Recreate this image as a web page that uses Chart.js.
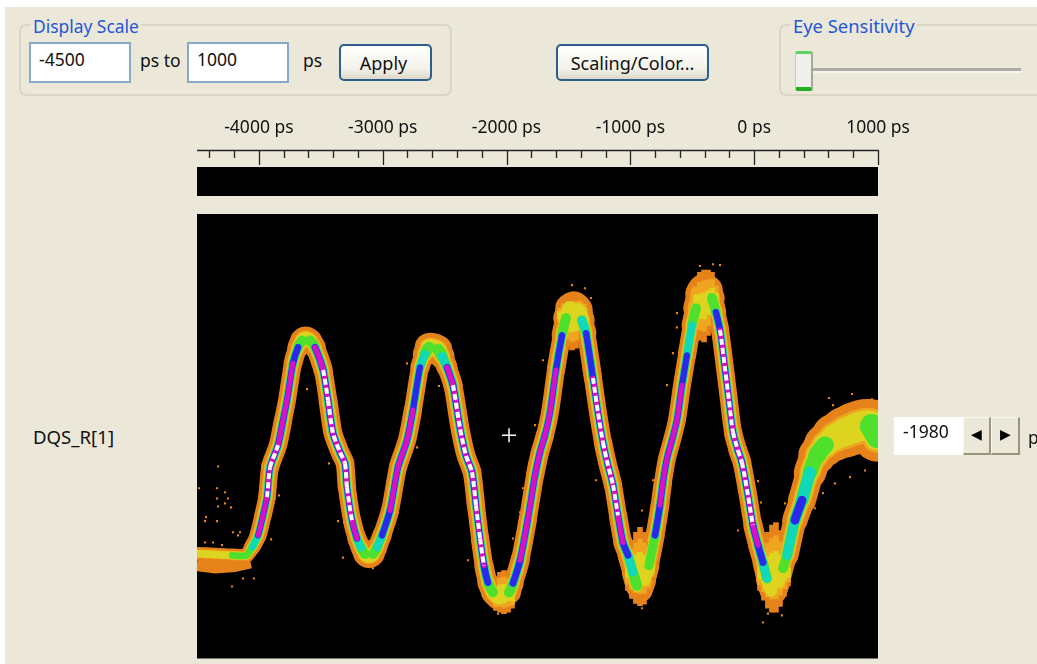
<!DOCTYPE html>
<html><head><meta charset="utf-8">
<script src="https://cdn.jsdelivr.net/npm/chart.js@4"></script>
<style>
html,body{margin:0;padding:0;background:#fff;overflow:hidden}
#app{position:absolute;left:5px;top:7px;width:1032px;height:657px;background:#ebe8d9}
#wrap{position:absolute;left:0;top:0;width:1037px;height:664px;overflow:hidden;font-family:"Noto Sans",sans-serif;font-size:17.5px;color:#111;filter:blur(.4px)}
#wrap>*{position:absolute}
.group{border:2px solid #d9d6c4;border-radius:7px;box-sizing:border-box}
.legend{color:#2357d8;background:#ebe8d9;padding:0 2px;line-height:18px;font-size:17.4px;white-space:nowrap}
.inp{background:#fff;border:2px solid #8aa8c8;box-sizing:border-box;line-height:30px;padding-left:8px}
.btn{box-sizing:border-box;border:2px solid #2c5f8e;border-radius:5px;background:linear-gradient(#fff,#f3f1e8 70%,#dcd8c8);text-align:center;line-height:35px;font-size:18px;white-space:nowrap}
.t{line-height:18px;white-space:nowrap}
.spin{box-sizing:border-box;background:#ebe8d9;border:1px solid #f8f7f0;border-right:2px solid #99957f;border-bottom:2px solid #99957f;text-align:center;line-height:32px;font-size:14px;color:#000}
canvas{position:absolute;left:0;top:0}
</style></head><body>
<div id="wrap">
<div id="app"></div>
<div class="group" style="left:19px;top:24px;width:433px;height:72px"></div>
<div class="legend" style="left:31px;top:17px">Display Scale</div>
<div class="inp" style="left:29px;top:42px;width:102px;height:41px">-4500</div>
<div class="t" style="left:140px;top:51px">ps to</div>
<div class="inp" style="left:187px;top:42px;width:102px;height:41px">1000</div>
<div class="t" style="left:303px;top:51px">ps</div>
<div class="btn" style="left:339px;top:44px;width:93px;height:37px;padding-right:4px">Apply</div>
<div class="btn" style="left:556px;top:44px;width:153px;height:37px">Scaling/Color...</div>
<div class="group" style="left:779px;top:24px;width:270px;height:72px"></div>
<div class="legend" style="left:791px;top:17px;font-size:18.4px">Eye Sensitivity</div>
<div style="left:813px;top:68px;width:208px;height:3px;background:#aeaca0;border-bottom:2px solid #f7f6ee"></div>
<div style="left:795px;top:51px;width:18px;height:40px;box-sizing:border-box;background:#f0f0ea;border-top:3px solid #5fd05f;border-bottom:4px solid #22b022;border-right:2px solid #a8a698;border-left:1px solid #c8c6b8;border-radius:3px"></div>
<div class="t" style="left:33px;top:428px;font-size:18.6px">DQS_R[1]</div>
<div style="left:894px;top:417px;width:69px;height:38px;background:#fff"></div>
<div class="t" style="left:903px;top:422px">-1980</div>
<div class="spin" style="left:963px;top:417px;width:28px;height:38px">◀</div>
<div class="spin" style="left:991px;top:417px;width:29px;height:38px">▶</div>
<div class="t" style="left:1028px;top:428px">ps</div>
<canvas id="c" width="1037" height="667"></canvas>
</div>
<script>
// time axis (ps)
const axisMin = -4500, axisMax = 1000;
const rulerMajor = [-4000,-3000,-2000,-1000,0,1000];
const rulerMinor = [-4400,-4200,-3800,-3600,-3400,-3200,-2800,-2600,-2400,-2200,-1800,-1600,-1400,-1200,-800,-600,-400,-200,200,400,600,800];
// strobe trace: time (ps), amplitude (0-100), spread of the band (amplitude units), hit density level (1-8)
const traceTime = [
-4500,-4355,-4217,-4104,-4056,-4007,-3967,-3935,-3910,-3846,
-3805,-3773,-3725,-3684,-3652,-3628,-3587,-3547,-3482,-3442,
-3402,-3345,-3305,-3289,-3248,-3208,-3176,-3143,-3111,-3079,
-3046,-3006,-2941,-2877,-2804,-2756,-2699,-2659,-2626,-2594,
-2554,-2521,-2481,-2433,-2376,-2328,-2279,-2247,-2214,-2182,
-2150,-2110,-2061,-2029,-1980,-1948,-1891,-1827,-1770,-1730,
-1690,-1649,-1601,-1552,-1520,-1488,-1455,-1423,-1391,-1358,
-1302,-1262,-1221,-1181,-1140,-1100,-1060,-1019,-979,-947,
-914,-882,-850,-801,-761,-737,-704,-664,-624,-583,
-543,-502,-470,-438,-405,-373,-341,-309,-276,-236,
-204,-171,-131,-99,-50,-10,31,71,103,136,
168,200,233,265,329,386,451,507,572,652,
733,814,895,951,1000];
const traceAmp = [
23.6,23.4,23.2,23.2,25,27.7,32.2,36.3,43,48,
53.6,58.1,66.4,70,71.5,72,71.5,70,64.9,58.1,
50.7,46.4,43.9,38.5,31.1,27,25,23.5,23,23.5,
25,27.7,33.3,43,49.1,55.9,65.5,68.5,70,70,
69.5,68,65.5,61.5,51.8,45.7,41.9,34.5,27,20.9,
17.1,14.9,13.7,14,14.9,16.9,22.1,31.5,41.2,46.4,
50.2,55.4,64.9,72.7,76.6,78.8,79.3,78.4,76.1,73.2,
63.1,55.4,48.6,43.5,39,32.2,26.1,23.2,19.4,16.4,
15.3,17.6,20.9,27.7,34.5,39.6,45,49.1,53.6,61.5,
68.2,75,78.8,82,83.3,82.9,81.1,77.9,73.9,65.3,
58.1,50.9,46.8,44.1,36.7,30,25.5,21.6,18,15.3,
14.9,17.1,20.3,23.2,31.1,35.6,41.9,45.7,48,49.8,
50.9,51.8,52.5,52.3,50];
const traceSpread = [
2.7,2.7,2.7,2.9,3.2,3.4,3.5,3.5,3.6,3.8,
3.6,3.6,3.6,4,4.6,5,4.6,4.2,3.6,3.8,
3.8,3.8,3.8,3.6,3.6,3.8,4,4.4,5,4.4,
4,3.8,3.6,3.6,3.8,3.6,3.6,4.2,5.5,6,
5.5,4.5,4,3.8,3.8,3.8,3.8,3.6,3.6,3.8,
4,4.6,5,5,4.6,4,3.8,3.6,3.6,3.8,
3.6,3.6,3.6,3.8,4.6,5.6,6.2,5.6,4.6,3.8,
3.6,3.6,3.6,3.8,3.6,3.6,3.8,4,4.4,4.6,
4.6,4.4,4,3.8,3.8,3.6,3.6,3.6,3.6,3.6,
3.6,3.8,4.6,5.6,6.2,5.6,4.6,3.8,3.6,3.6,
3.6,3.6,3.8,3.8,3.6,3.8,4,4,4.4,4.6,
4.6,4.4,4,4.2,5,5.2,6,7,8,9,
10,10.5,10.5,10.5,10];
const traceDensity = [
3,3,4,4,5,7,7,8,8,8,
7,8,7,6,4,3,4,7,8,8,
8,8,8,8,8,7,5,4,3,4,
5,6,7,7,7,7,6,5,4,3,
4,5,7,8,8,8,8,8,8,8,
6,4,3,3,4,6,7,7,7,8,
7,7,7,6,4,3,2,3,5,6,
8,8,8,8,8,8,7,6,5,4,
2,3,4,6,7,7,7,7,7,7,
6,5,4,2,2,2,4,6,8,8,
8,8,8,8,8,8,7,6,5,3,
2,3,4,5,6,6,5,4,4,3,
3,4,3,5,4];
// bulk of hits where edges pile up at crests and troughs
const bulkTime = [-1568,-1536,-1504,-1471,-1439,-1407,-1375,-470,-438,-405,-373,-341,-309,-2085,-2053,-2021,-1988,-1956,-1019,-987,-955,-922,-890,-858,-825,47,79,111,144,176,208,241,273];
const bulkHigh = [79.5,81.1,82,82.2,82.2,81.8,80.6,85.1,86.9,87.4,87.4,86.9,85.1,16.4,19.4,19.8,19.1,16.4,24.3,26.6,28.4,29.5,28.4,26.1,23.2,23.2,25.5,28.4,30,30.6,28.8,25.5,22.1];
const bulkLow = [75,72.7,70.3,69.4,69.8,72.7,75,75,71.6,71.2,72.7,75.7,76.1,10.8,10.4,10.1,10.4,11.3,15.3,13.5,12.4,11.9,12.2,14,17.6,15.3,13.1,11.3,10.4,10.4,11.7,14,16.4];
// noisy floor under the idle level
const hazeTime = [-4500,-4350,-4200,-4070];
const hazeAmp = [21.4,20.9,21.2,22];
const hazeSpread = 3.5;
// isolated hits around the trace
const hitTime = [-4330,-4484,-4338,-4274,-4338,-4250,-4274,-4330,-4225,-4427,-4435,-4338,-4209,-4153,-4169,-4217,-4129,-4040,-4435,-4371,-4298,-3612,-3684,-3838,-3902,-3361,-3321,-3434,-3079,-2804,-2723,-2546,-2069,-1948,-1891,-1867,-2311,-1770,-1706,-1471,-1367,-1318,-1278,-817,-906,-906,-704,-624,-656,-438,-333,-276,-624,-131,31,55,249,289,111,224,71,604,636,790,951,895,774,652,556,491];
const hitAmp = [43.2,38.3,38.3,37.4,36,36,34.9,34.2,34,31.8,30.9,30.9,28.4,28.4,27.7,16.2,18,18,26.1,26.1,25.5,60.6,62.6,36.7,26.8,30.9,22.7,43.9,20.3,66.4,47.5,61.3,10.1,27,32.9,38.3,22.1,52.5,67.1,84,83.3,81.1,40.1,40.1,33.3,11.3,61.5,74.5,68.7,88.3,88.7,88.5,77.7,28.8,39.9,35.1,34.9,36.7,10.1,9.7,8.1,58.6,57,59.5,58.3,42.3,40.8,39.4,37.2,33.8];
// measurement cursor
const cursorTime = [-1980];
const cursorAmp = [50.2];

const zip = (xs, ys) => xs.map((x, i) => ({x, y: ys[i]}));
const traceData = zip(traceTime, traceAmp);
const layers = [
  {color:'#e5821a', frac:1.12, level:1},
  {color:'#efa51f', frac:.74,  level:2},
  {color:'#dcd41f', frac:.62,  level:3},
  {color:'#4fe02e', frac:.53,  level:4},
  {color:'#10d8b8', frac:.46,  level:5},
  {color:'#2c28e8', frac:.39,  level:6},
  {color:'#d810c8', frac:.31,  level:7},
  {color:'#ffffff', frac:.24,  level:8, dash:[6,3]}
];
const bandLayer = l => ({
  type:'line', data:traceData, pointRadius:0, tension:.25, fill:false,
  borderColor:l.color, borderWidth:1, borderCapStyle:l.dash?'butt':'round', borderJoinStyle:'round', borderDash:l.dash||[],
  segment:{
    borderColor: c => Math.min(traceDensity[c.p0DataIndex],traceDensity[c.p1DataIndex])>=l.level ? l.color : 'rgba(0,0,0,0)',
    borderWidth: c => {
      const px = c.chart.scales.y.height/100;
      return Math.max(1,(traceSpread[c.p0DataIndex]+traceSpread[c.p1DataIndex])/2*l.frac*px);
    }
  }
});
const bulkLayer = (color, frac) => ({
  type:'bar', barThickness:5, grouped:false, borderWidth:0, backgroundColor:color,
  data: bulkTime.map((x,i)=>{
    const mid=(bulkHigh[i]+bulkLow[i])/2, half=(bulkHigh[i]-bulkLow[i])/2*frac;
    return {x, y:[mid-half, mid+half]};
  })
});
const ruler = {
  id:'ruler',
  beforeDraw(chart){
    const {ctx, chartArea:a, scales:{x}} = chart;
    ctx.save();
    ctx.fillStyle='#000';
    ctx.fillRect(a.left,167,a.right-a.left,29);
    ctx.fillRect(a.left,a.top,a.right-a.left,a.bottom-a.top);
    ctx.strokeStyle='#222'; ctx.lineWidth=1.3;
    ctx.beginPath();
    ctx.moveTo(a.left,150.5); ctx.lineTo(a.right+1,150.5);
    rulerMinor.forEach(v=>{const p=Math.round(x.getPixelForValue(v))+.5;ctx.moveTo(p,150);ctx.lineTo(p,158);});
    rulerMajor.forEach(v=>{const p=Math.round(x.getPixelForValue(v))+.5;ctx.moveTo(p,150);ctx.lineTo(p,165);});
    ctx.stroke();
    ctx.restore();
  }
};
// Chart.js paints the first dataset last, so the list runs from top mark to bottom mark
const innerLayers = layers.slice(2).map(bandLayer).reverse();
const outerLayers = layers.slice(0,2).map(bandLayer).reverse();
new Chart(document.getElementById('c'),{
  type:'line',
  data:{datasets:[
    {type:'scatter',data:zip(cursorTime,cursorAmp),pointStyle:'cross',pointRadius:7,pointBorderWidth:1.5,borderColor:'#fff',backgroundColor:'#fff'},
    ...innerLayers,
    bulkLayer('#dcd41f',.36),
    bulkLayer('#efa51f',.7),
    bulkLayer('#e5821a',1),
    ...outerLayers,
    {type:'scatter',data:zip(hitTime,hitAmp),pointStyle:'rect',pointRadius:1.5,pointBorderWidth:0,backgroundColor:'#e5821a',borderColor:'#e5821a'},
    {type:'line',data:zip(hazeTime,hazeAmp),pointRadius:0,borderColor:'#e5821a',borderWidth:hazeSpread*4.44,borderCapStyle:'butt'}
  ]},
  options:{
    responsive:false,animation:false,events:[],
    layout:{padding:{left:197,right:159,top:117,bottom:1}},
    plugins:{legend:{display:false},tooltip:{enabled:false}},
    scales:{
      x:{type:'linear',position:'top',offset:false,min:axisMin,max:axisMax,
        afterBuildTicks:s=>{s.ticks=rulerMajor.map(value=>({value}));},
        afterFit:s=>{s.height=97;},
        grid:{display:false,drawTicks:false,offset:false},border:{display:false},
        ticks:{autoSkip:false,maxRotation:0,padding:75,color:'#111',font:{family:'"Noto Sans"',size:17.5},callback:v=>v+' ps'}},
      y:{type:'linear',display:false,min:0,max:100}
    }
  },
  plugins:[ruler]
});
</script>
</body></html>
